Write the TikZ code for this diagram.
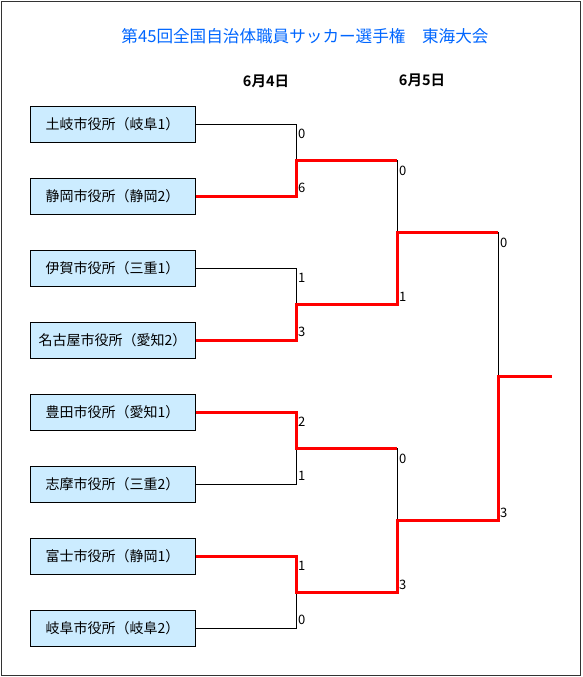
\documentclass[tikz,border=0pt]{standalone}
\usepackage{fontspec}
\newfontfamily\cjk{Noto Sans CJK JP}
\newfontfamily\cjkb{Noto Sans CJK JP Bold}
\definecolor{boxfill}{RGB}{204,236,255}
\definecolor{titleblue}{RGB}{0,102,255}
\definecolor{winred}{RGB}{255,0,0}
\begin{document}
\begin{tikzpicture}[x=1pt,y=-1pt,
  team/.style={draw=black,line width=1pt,fill=boxfill,minimum width=165pt,minimum height=36pt,inner sep=0pt,font=\cjk\fontsize{14}{14}\selectfont},
  lose/.style={draw=black,line width=1pt},
  win/.style={draw=winred,line width=3pt,line join=miter},
  score/.style={anchor=west,inner sep=0pt,font=\cjk\fontsize{13}{13}\selectfont}]
\useasboundingbox (0,0) rectangle (582,677);
\draw[line width=1pt,draw=black!80] (1.5,1.5) rectangle (580.5,675.5);
\node[font=\cjk\fontsize{16.6}{16.6}\selectfont,text=titleblue] (title) at (305,36) {第45回全国自治体職員サッカー選手権　東海大会};
\node[font=\cjkb\fontsize{14.5}{14.5}\selectfont] (d1) at (266,81) {6月4日};
\node[font=\cjkb\fontsize{14.5}{14.5}\selectfont] (d2) at (422,80) {6月5日};
\node[team] (t1) at (112.5,124) {土岐市役所（岐阜1）};
\node[team] (t2) at (112.5,196) {静岡市役所（静岡2）};
\node[team] (t3) at (112.5,268) {伊賀市役所（三重1）};
\node[team] (t4) at (112.5,340) {名古屋市役所（愛知2）};
\node[team] (t5) at (112.5,412) {豊田市役所（愛知1）};
\node[team] (t6) at (112.5,484) {志摩市役所（三重2）};
\node[team] (t7) at (112.5,556) {富士市役所（静岡1）};
\node[team] (t8) at (112.5,628) {岐阜市役所（岐阜2）};
\coordinate (j1) at (296,160);
\coordinate (j2) at (296,304);
\coordinate (j3) at (296,448);
\coordinate (j4) at (296,592);
\coordinate (a1) at (397,160);
\coordinate (a2) at (397,304);
\coordinate (a3) at (397,448);
\coordinate (a4) at (397,592);
\coordinate (k1) at (397,232);
\coordinate (k2) at (397,520);
\coordinate (b1) at (498,232);
\coordinate (b2) at (498,520);
\coordinate (f) at (498,376);
\coordinate (fin) at (552,376);
% losers
\draw[lose] (t1.east) -| (j1);
\draw[lose] (t3.east) -| (j2);
\draw[lose] (t6.east) -| (j3);
\draw[lose] (t8.east) -| (j4);
\draw[lose] (a1) -- (k1);
\draw[lose] (a3) -- (k2);
\draw[lose] (b1) -- (f);
% winners
\draw[win] (t2.east) -| (j1) -- (a1);
\draw[win] (t4.east) -| (j2) -- (a2) -- (k1) -- (b1);
\draw[win] (t5.east) -| (j3) -- (a3);
\draw[win] (t7.east) -| (j4) -- (a4) -- (k2) -- (b2) -- (f) -- (fin);
% scores
\node[score] (s1) at (298,134) {0};
\node[score] (s2) at (298,188) {6};
\node[score] (s3) at (298,278) {1};
\node[score] (s4) at (298,332) {3};
\node[score] (s5) at (298,422) {2};
\node[score] (s6) at (298,476) {1};
\node[score] (s7) at (298,566) {1};
\node[score] (s8) at (298,620) {0};
\node[score] (s9) at (399,171) {0};
\node[score] (s10) at (399,297) {1};
\node[score] (s11) at (399,459) {0};
\node[score] (s12) at (399,585) {3};
\node[score] (s13) at (500,243) {0};
\node[score] (s14) at (500,513) {3};
\end{tikzpicture}
\end{document}
